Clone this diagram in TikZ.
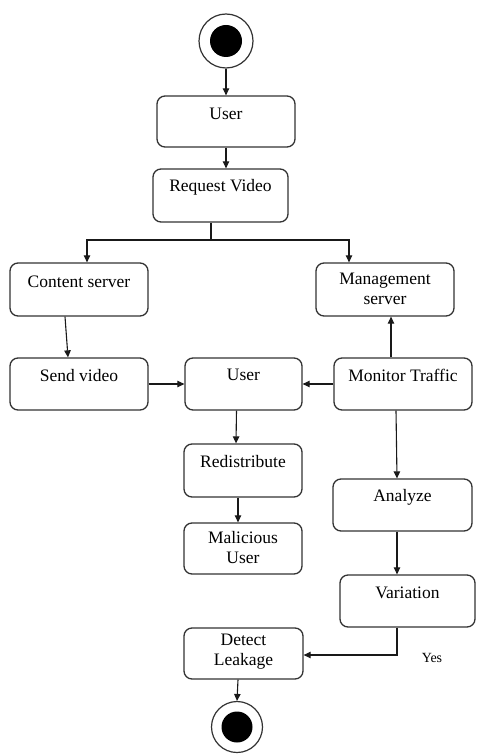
\documentclass[tikz,border=0pt]{standalone}
\usepackage{fontspec}
\setmainfont{Liberation Serif}
\newfontfamily\diagfont{Liberation Serif}
\usetikzlibrary{arrows.meta,calc}
\begin{document}
\begin{tikzpicture}[x=1pt,y=-1pt,
  font=\diagfont\fontsize{17.5}{20}\selectfont,
  act/.style={draw=black!80,line width=1.3pt,rounded corners=8pt,inner sep=0pt},
  txt/.style={anchor=center,inner sep=0pt,align=center},
  flow/.style={draw=black!90,line width=1.1pt,-{Triangle[length=7pt,width=6.5pt]}},
  wire/.style={draw=black!90,line width=1.1pt},
  startdot/.style={circle,fill=black,inner sep=0pt,minimum size=32pt},
  ring/.style={circle,draw=black!80,line width=1.2pt,fill=white,inner sep=0pt}]
\useasboundingbox (0,0) rectangle (476,754);

% activity boxes: corner to corner, caption placed near the top
\newcommand{\actbox}[5]{%
  \node[act,minimum width={#4-#2},minimum height={#5-#3}] (#1) at ({(#2+#4)/2},{(#3+#5)/2}) {};}

\actbox{user}{157}{96}{295}{147}
\node[txt] (userT) at ($(user.north)+(0,19)$) {User};
\actbox{req}{153}{169}{288}{222}
\node[txt] (reqT) at ($(req.north)+(0,19)$) {Request Video};
\actbox{content}{10}{263}{148}{316}
\node[txt] (contentT) at ($(content.north)+(0,19)$) {Content server};
\actbox{mgmt}{316}{263}{454}{316}
\node[txt] (mgmtT) at ($(mgmt.north)+(0,27)$) {Management\\server};
\actbox{send}{10}{358}{148}{410}
\node[txt] (sendT) at ($(send.north)+(0,18)$) {Send video};
\actbox{user2}{185}{358}{302}{410}
\node[txt] (user2T) at ($(user2.north)+(0,18)$) {User};
\actbox{monitor}{334}{358}{472}{410}
\node[txt] (monitorT) at ($(monitor.north)+(0,18)$) {Monitor Traffic};
\actbox{redis}{184}{444}{302}{497}
\node[txt] (redisT) at ($(redis.north)+(0,18)$) {Redistribute};
\actbox{mal}{184}{523}{302}{574}
\node[txt] (malT) at ($(mal.north)+(0,25)$) {Malicious\\User};
\actbox{analyze}{333}{479}{472}{531}
\node[txt] (analyzeT) at ($(analyze.north)+(0,19)$) {Analyze};
\actbox{var}{340}{575}{475}{627}
\node[txt] (varT) at ($(var.north)+(0,18)$) {Variation};
\actbox{detect}{184}{628}{303}{679}
\node[txt] (detectT) at ($(detect.north)+(0,24)$) {Detect\\Leakage};

% initial and final states
\node[ring,minimum size=54pt] (start) at (226,41) {};
\node[startdot] (startdot) at (start) {};
\node[ring,minimum size=51pt] (final) at (237,727) {};
\node[startdot,minimum size=31pt] (finaldot) at (final) {};

% flow
\draw[flow] (start.south) -- (start.south |- user.north);
\draw[flow] (user.south) -- (user.south |- req.north);
\coordinate (fork) at (211,240);
\draw[wire] (fork |- req.south) -- (fork);
\draw[flow] (fork) -| ($(content.north)+(8,0)$);
\draw[flow] (fork) -| ($(mgmt.north)+(-36,0)$);
\draw[flow] ($(content.south)+(-14,0)$) -- ($(send.north)+(-11,0)$);
\draw[flow] (send.east) -- (user2.west);
\draw[flow] (monitor.west) -- (user2.east);
\draw[flow] ($(monitor.north)+(-12,0)$) -- ($(mgmt.south)+(6,0)$);
\draw[flow] ($(user2.south)+(-7,0)$) -- ($(redis.north)+(-7,0)$);
\draw[flow] ($(redis.south)+(-5,0)$) -- ($(mal.north)+(-5,0)$);
\draw[flow] ($(monitor.south)+(-7,0)$) -- ($(analyze.north)+(-5.5,0)$);
\draw[flow] ($(analyze.south)+(-5.5,0)$) -- ($(var.north)+(-10.5,0)$);
\draw[flow] ($(var.south)+(-10.5,0)$) |- (detect.east |- 0,655);
\draw[flow] ($(detect.south)+(-5.5,0)$) -- (final.north);
\node[inner sep=0pt,font=\diagfont\fontsize{14}{16}\selectfont] (yes) at (432,658) {Yes};
\end{tikzpicture}
\end{document}
